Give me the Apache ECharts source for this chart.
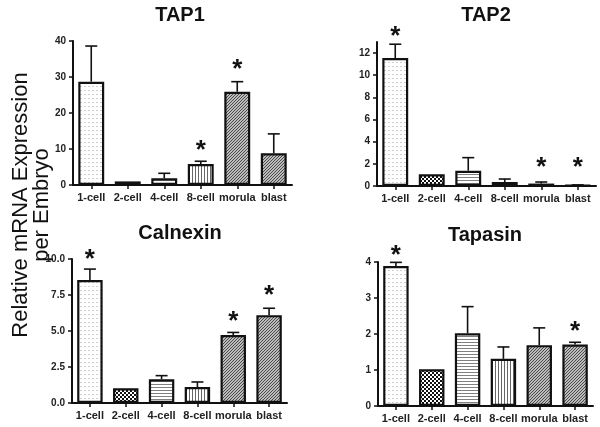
<!DOCTYPE html>
<html>
<head>
<meta charset="utf-8">
<script src="https://cdn.jsdelivr.net/npm/echarts@6/dist/echarts.min.js"></script>
<style>
html,body{margin:0;padding:0;background:#fff;}
#chart{width:600px;height:427px;}
</style>
</head>
<body>
<div id="chart"></div>
<script>
// ---- data ----
const stages = ['1-cell', '2-cell', '4-cell', '8-cell', 'morula', 'blast'];

const tap1Mean  = [28.7, 1.0, 1.85, 5.8, 25.9, 8.8];
const tap1Upper = [38.6, null, 3.25, 6.6, 28.7, 14.2];
const tap1Star  = [null, null, null, 10.8, 33.3, null];

const tap2Mean  = [11.55, 1.05, 1.38, 0.36, 0.22, 0.05];
const tap2Upper = [12.8, null, 2.56, 0.63, 0.36, 0.1];
const tap2Star  = [13.9, null, null, null, 2.1, 2.1];

const calMean  = [8.54, 1.02, 1.65, 1.11, 4.72, 6.1];
const calUpper = [9.3, null, 1.9, 1.46, 4.9, 6.58];
const calStar  = [10.3, null, null, null, 6.0, 7.8];

const tapsMean  = [3.89, 1.02, 2.02, 1.31, 1.69, 1.71];
const tapsUpper = [3.99, null, 2.76, 1.64, 2.17, 1.77];
const tapsStar  = [4.31, null, null, null, null, 2.19];

const tap2Ticks = [0, 2, 4, 6, 8, 10, 12];

const titles = ['TAP1', 'TAP2', 'Calnexin', 'Tapasin'];
const yTitle = 'Relative mRNA Expression\nper Embryo';

// ---- fill patterns ----
function makePattern(w, h, draw) {
  const c = document.createElement('canvas');
  c.width = w; c.height = h;
  const g = c.getContext('2d');
  g.fillStyle = '#fff';
  g.fillRect(0, 0, w, h);
  draw(g);
  return { image: c, repeat: 'repeat' };
}
function hatch(g) {
  g.fillStyle = '#bcbcbc'; g.fillRect(0, 0, 3, 3);
  g.fillStyle = '#4a4a4a';
  g.fillRect(0, 2, 1, 1); g.fillRect(1, 1, 1, 1); g.fillRect(2, 0, 1, 1);
}
const patterns = [
  makePattern(4, 4, g => { g.fillStyle = '#d0d0d0'; g.fillRect(0, 2, 2, 1); }),
  makePattern(4, 4, g => { g.fillStyle = '#111'; g.fillRect(0, 0, 2, 2); g.fillRect(2, 2, 2, 2); }),
  makePattern(3, 3, g => { g.fillStyle = '#808080'; g.fillRect(0, 0, 3, 1); }),
  makePattern(3, 3, g => { g.fillStyle = '#666'; g.fillRect(0, 0, 1, 3); }),
  makePattern(3, 3, hatch),
  makePattern(3, 3, hatch)
];

const panels = [
  { mean: tap1Mean, upper: tap1Upper, star: tap1Star, max: 40, interval: 10, fmt: v => String(v) },
  { mean: tap2Mean, upper: tap2Upper, star: tap2Star, max: 13, interval: 2, fmt: v => String(v), custom: tap2Ticks },
  { mean: calMean, upper: calUpper, star: calStar, max: 10, interval: 2.5, fmt: v => v.toFixed(1) },
  { mean: tapsMean, upper: tapsUpper, star: tapsStar, max: 4, interval: 1, fmt: v => String(v) }
];

const grids = [
  { left: 73, top: 41, width: 219, height: 144 },
  { left: 377, top: 42, width: 219, height: 144 },
  { left: 72, top: 259, width: 215, height: 144 },
  { left: 378, top: 262, width: 215, height: 144 }
];
const titlePos = [[180, 15], [486, 15], [180, 233], [485, 235]];

const FONT = '"Liberation Sans", Arial, sans-serif';
const ink = '#111';

const xAxis = [], yAxis = [], series = [], graphic = [];
panels.forEach((p, k) => {
  xAxis.push({
    type: 'category', gridIndex: k, data: stages,
    axisLine: { lineStyle: { color: ink, width: 2 } },
    axisTick: { show: true, alignWithLabel: true, length: 4, lineStyle: { color: ink, width: 1.5 } },
    axisLabel: { fontSize: 11, fontWeight: 'bold', color: '#222', fontFamily: FONT, margin: 7, interval: 0 }
  });
  const yLabel = { fontSize: 10, fontWeight: 'bold', color: '#222', fontFamily: FONT, margin: 7, formatter: p.fmt };
  const yTick = { show: true, length: 4, lineStyle: { color: ink, width: 1.5 } };
  if (p.custom) { yLabel.customValues = p.custom; yTick.customValues = p.custom; }
  yAxis.push({
    type: 'value', gridIndex: k, min: 0, max: p.max, interval: p.interval,
    splitLine: { show: false },
    axisLine: { show: true, lineStyle: { color: ink, width: 2 } },
    axisTick: yTick,
    axisLabel: yLabel
  });
  series.push({
    type: 'bar', xAxisIndex: k, yAxisIndex: k, barWidth: '71%',
    data: p.mean.map((v, i) => ({ value: v, itemStyle: { color: patterns[i] } })),
    itemStyle: { borderColor: ink, borderWidth: 2.2 },
    emphasis: { disabled: true }, z: 2
  });
  series.push({
    type: 'custom', xAxisIndex: k, yAxisIndex: k, z: 3,
    data: p.mean.map((v, i) => [i, v, p.upper[i]]).filter(d => d[2] !== null),
    renderItem: (params, api) => {
      const i = api.value(0);
      const a = api.coord([i, api.value(1)]);
      const b = api.coord([i, api.value(2)]);
      const cap = 6;
      return {
        type: 'group',
        children: [
          { type: 'line', shape: { x1: a[0], y1: a[1], x2: b[0], y2: b[1] }, style: { stroke: ink, lineWidth: 1.6 } },
          { type: 'line', shape: { x1: b[0] - cap, y1: b[1], x2: b[0] + cap, y2: b[1] }, style: { stroke: ink, lineWidth: 1.6 } }
        ]
      };
    }
  });
  series.push({
    type: 'custom', xAxisIndex: k, yAxisIndex: k, z: 4, clip: false,
    data: p.star.map((v, i) => [i, v]).filter(d => d[1] !== null),
    renderItem: (params, api) => {
      const c = api.coord([api.value(0), api.value(1)]);
      return {
        type: 'text', x: c[0], y: c[1] + 5,
        style: { text: '*', fontSize: 26, fontWeight: 'bold', fill: ink, fontFamily: FONT,
                 align: 'center', verticalAlign: 'middle' }
      };
    }
  });
  graphic.push({
    type: 'text', x: titlePos[k][0], y: titlePos[k][1],
    style: { text: titles[k], fontSize: 20, fontWeight: 'bold', fill: '#111', fontFamily: FONT,
             align: 'center', verticalAlign: 'middle' }
  });
});

graphic.push({
  type: 'text', x: 31, y: 205, rotation: Math.PI / 2,
  style: { text: yTitle, fontSize: 22, fill: '#111', fontFamily: FONT,
           align: 'center', verticalAlign: 'middle', lineHeight: 21 }
});

const chart = echarts.init(document.getElementById('chart'), null, { renderer: 'canvas' });
chart.setOption({
  animation: false,
  backgroundColor: '#fff',
  grid: grids,
  xAxis: xAxis,
  yAxis: yAxis,
  series: series,
  graphic: graphic
});
</script>
</body>
</html>
